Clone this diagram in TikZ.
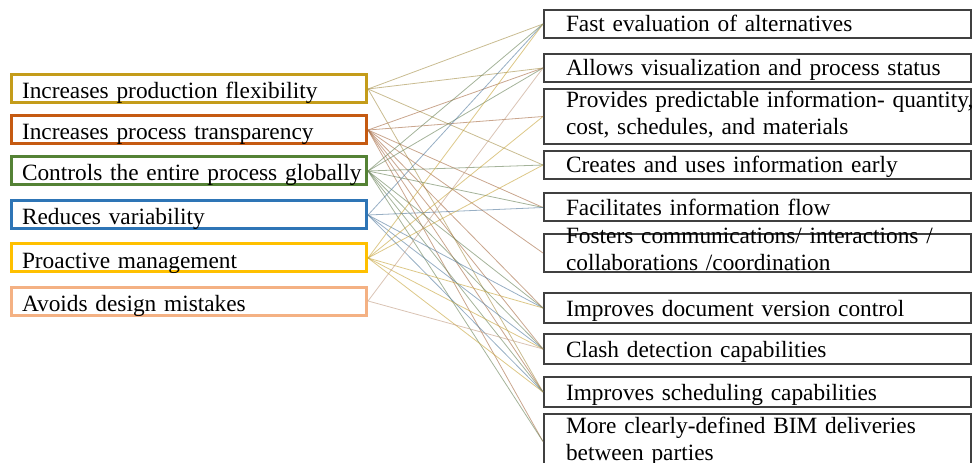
\documentclass[tikz,border=0pt]{standalone}
\usepackage{fontspec}
\setmainfont{Liberation Serif}
\definecolor{goldc}{RGB}{196,156,26}
\definecolor{orangec}{RGB}{197,90,17}
\definecolor{greenc}{RGB}{84,130,53}
\definecolor{bluec}{RGB}{46,117,182}
\definecolor{yellowc}{RGB}{255,192,0}
\definecolor{peachc}{RGB}{244,177,131}
\definecolor{framec}{RGB}{64,64,64}
\tikzset{
  lbox/.style={draw=#1, line width=2.25pt, minimum width=266.25pt, minimum height=21pt,
    inner xsep=7.9pt, inner ysep=0pt, text width=250.5pt, align=left,
    text height=15pt, text depth=0pt, font=\fontsize{17.5pt}{20.25pt}\selectfont},
  rbox/.style={draw=framec, line width=1.5pt, minimum width=320.25pt, minimum height=21pt,
    inner xsep=16.5pt, inner ysep=0pt, text width=287.25pt, align=left,
    text height=12pt, text depth=0pt, font=\fontsize{17.5pt}{20.25pt}\selectfont},
  rbox2/.style={rbox, minimum height=41.25pt, text height=10pt, text depth=22.75pt},
  link/.style={draw=#1!55!gray, line width=0.6pt, opacity=0.6}
}
\begin{document}
\begin{tikzpicture}[x=0.75pt,y=-0.75pt]
\useasboundingbox (0,0) rectangle (974,463);

% left: effects
\node[lbox=goldc] (flex) at (189,89) {Increases production flexibility};
\node[lbox=orangec] (transp) at (189,130) {Increases process transparency};
\node[lbox=greenc] (control) at (189,171) {\mbox{Controls the entire process globally}};
\node[lbox=bluec] (variab) at (189,215) {Reduces variability};
\node[lbox=yellowc] (proact) at (189,258) {Proactive management};
\node[lbox=peachc] (mistakes) at (189,301) {Avoids design mistakes};

% right: BIM functions
\node[rbox] (fast) at (757.5,24) {Fast evaluation of alternatives};
\node[rbox] (visual) at (757.5,68) {Allows visualization and process status};
\node[rbox2] (predict) at (757.5,116.5) {\mbox{Provides predictable information- quantity,}\\cost, schedules, and materials};
\node[rbox] (early) at (757.5,165) {Creates and uses information early};
\node[rbox] (flow) at (757.5,207.5) {Facilitates information flow};
\node[rbox2, minimum height=28.5pt, text height=7.5pt, text depth=21pt] (comm) at (757.5,253) {\mbox{Fosters communications/ interactions /}\\collaborations /coordination};
\node[rbox, minimum height=22.5pt] (version) at (757.5,308) {Improves document version control};
\node[rbox, minimum height=22.5pt] (clash) at (757.5,349) {Clash detection capabilities};
\node[rbox, minimum height=22.5pt] (sched) at (757.5,392) {Improves scheduling capabilities};
\node[rbox2] (deliver) at (757.5,441.5) {More clearly-defined BIM deliveries\\between parties};

% links
\foreach \t in {fast,visual,early,sched}
  \draw[link=goldc] (flex.east) -- (\t.west);
\foreach \t in {visual,predict,flow,comm,version,clash,sched,deliver}
  \draw[link=orangec] (transp.east) -- (\t.west);
\foreach \t in {fast,visual,early,flow,version,clash,sched,deliver}
  \draw[link=greenc] (control.east) -- (\t.west);
\foreach \t in {fast,flow,version,clash,sched}
  \draw[link=bluec] (variab.east) -- (\t.west);
\foreach \t in {fast,predict,early,version,clash,sched}
  \draw[link=yellowc] (proact.east) -- (\t.west);
\foreach \t in {visual,clash}
  \draw[link=peachc] (mistakes.east) -- (\t.west);

\end{tikzpicture}
\end{document}
